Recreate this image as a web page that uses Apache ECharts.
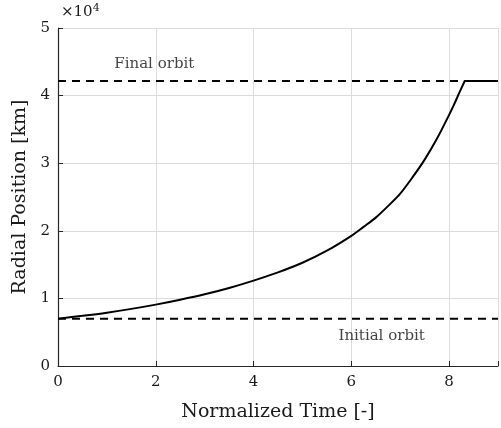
<!DOCTYPE html>
<html><head><meta charset="utf-8">
<script src="https://cdn.jsdelivr.net/npm/echarts@6/dist/echarts.min.js"></script>
<style>html,body{margin:0;padding:0;background:#fff}#c{width:501px;height:428px}</style>
</head><body><div id="c"></div>
<script>
var timeVals = [0, 0.5, 1, 1.5, 2, 2.5, 3, 3.5, 4, 4.5, 5, 5.5, 6, 6.25, 6.5, 6.75, 7, 7.25, 7.5, 7.75, 8, 8.1, 8.2, 8.32];
var radiusVals = [7000, 7420, 7890, 8450, 9080, 9800, 10600, 11540, 12630, 13850, 15270, 17050, 19250, 20580, 21950, 23650, 25500, 27900, 30530, 33610, 37150, 38660, 40280, 42164];
var holdTime = [8.32, 9];
var holdRadius = [42164, 42164];
var finalOrbit = 42164;
var initialOrbit = 7000;
var xTicks = [0, 2, 4, 6, 8];
var yTicks = [0, 1, 2, 3, 4, 5];
var labelTexts = [{x: 1.97, y: 44700, text: 'Final orbit'}, {x: 6.62, y: 4350, text: 'Initial orbit'}];

var FONT = 'DejaVu Serif';
var chart = echarts.init(document.getElementById('c'));
function pairs(xs, ys){ return xs.map(function(x,i){return [x, ys[i]];}); }
chart.setOption({
  animation: false,
  grid: {left: 58, top: 28, right: -1, bottom: 62, containLabel: false},
  xAxis: {
    type: 'value', min: 0, max: 9, interval: 2,
    name: 'Normalized Time [-]', nameLocation: 'middle', nameGap: 37,
    nameTextStyle: {fontFamily: FONT, fontSize: 19, color: '#1a1a1a'},
    axisLine: {show: true, lineStyle: {color: '#262626', width: 1.2}},
    axisTick: {show: true, inside: true, length: 5, lineStyle: {color: '#262626'}},
    axisLabel: {fontFamily: FONT, fontSize: 15, color: '#1a1a1a', margin: 9,
      formatter: function(v){ return xTicks.indexOf(v) >= 0 ? String(v) : ''; }},
    splitLine: {show: true, lineStyle: {color: '#dcdcdc', width: 1}}
  },
  yAxis: {
    type: 'value', min: 0, max: 50000, interval: 10000,
    name: 'Radial Position [km]', nameLocation: 'middle', nameGap: 25, nameRotate: 90,
    nameTextStyle: {fontFamily: FONT, fontSize: 19, color: '#1a1a1a'},
    axisLine: {show: true, lineStyle: {color: '#262626', width: 1.2}},
    axisTick: {show: true, inside: true, length: 5, lineStyle: {color: '#262626'}},
    axisLabel: {fontFamily: FONT, fontSize: 15, color: '#1a1a1a', margin: 8,
      formatter: function(v){ var t = v/10000; return yTicks.indexOf(t) >= 0 ? String(t) : ''; }},
    splitLine: {show: true, lineStyle: {color: '#dcdcdc', width: 1}}
  },
  graphic: [{
    type: 'text', left: 61, top: 3,
    style: {text: '×10{s|4}', fontFamily: FONT, fontSize: 15, fill: '#1a1a1a',
      rich: {s: {fontFamily: FONT, fontSize: 11, verticalAlign: 'top', padding: [0,0,8,0], fill: '#1a1a1a'}}}
  }],
  series: [
    {type: 'line', data: [[0, finalOrbit], [9, finalOrbit]], symbol: 'none',
     lineStyle: {color: '#000', width: 2, type: [8, 6]}},
    {type: 'line', data: [[0, initialOrbit], [9, initialOrbit]], symbol: 'none',
     lineStyle: {color: '#000', width: 2, type: [8, 6]}},
    {type: 'line', data: pairs(timeVals, radiusVals), symbol: 'none', smooth: 0.3,
     lineStyle: {color: '#000', width: 2}},
    {type: 'line', data: pairs(holdTime, holdRadius), symbol: 'none',
     lineStyle: {color: '#000', width: 2}},
    {type: 'scatter', symbolSize: 0, silent: true,
     data: labelTexts.map(function(d){ return {value: [d.x, d.y], name: d.text}; }),
     label: {show: true, position: 'inside', formatter: '{b}', fontFamily: FONT, fontSize: 15, color: '#111'}}
  ]
});
</script></body></html>
